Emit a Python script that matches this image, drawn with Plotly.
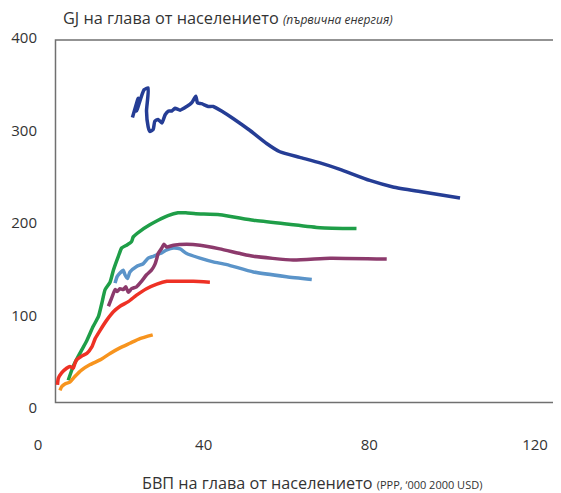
import plotly.graph_objects as go

# GDP per capita (PPP, '000 2000 USD) vs primary energy per capita (GJ)
navy_x = [22.8, 24.2, 23.8, 25.6, 26.6, 26.2, 26.6, 27.0, 27.8, 28.2, 29.0, 29.9, 30.7, 31.5, 32.3,
          33.1, 34.3, 35.9, 37.1, 38.1, 38.5, 39.5, 41.1, 42.3, 44.7, 47.1, 51.2, 55.2, 58.4, 63.2,
          68.1, 72.9, 80.1, 85.7, 92.2, 101.9]
navy_y = [314, 335, 321, 344, 346, 321, 304, 299, 301, 310, 312, 308, 317, 321, 321,
          324, 322, 326, 330, 337, 330, 329, 326, 326, 320, 313, 300, 286, 277, 271,
          265, 258, 246, 239, 234, 227]

green_x = [7.3, 8.5, 10.1, 11.8, 13.3, 14.6, 15.4, 16.2, 17.4, 18.2, 19.4, 20.2, 21.4, 22.6, 23.0,
           24.6, 27.0, 29.0, 31.4, 33.8, 35.7, 38.1, 43.9, 52.0, 60.0, 68.1, 76.9]
green_y = [30, 45, 59, 73, 88, 99, 113, 128, 136, 149, 164, 173, 176, 180, 185,
           191, 198, 203, 208, 211, 211, 210, 209, 203, 199, 195, 194]

purple_x = [17.0, 17.8, 18.6, 19.1, 19.8, 20.6, 21.2, 21.8, 22.6, 23.8, 25.0, 26.2, 27.4, 28.2, 28.7,
            29.0, 29.9, 30.4, 31.1, 32.7, 35.9, 39.1, 43.9, 48.8, 52.0, 61.6, 70.5, 84.2]
purple_y = [110, 119, 128, 126, 129, 128, 131, 125, 129, 131, 137, 144, 149, 155, 162,
            167, 173, 177, 174, 176, 177, 176, 172, 167, 164, 160, 162, 161]

lblue_x = [18.6, 19.1, 19.8, 20.6, 21.0, 21.6, 22.2, 23.8, 25.4, 26.6, 27.8, 29.5, 31.1, 32.7, 34.3,
           35.9, 39.1, 42.3, 45.6, 52.0, 60.0, 66.1]
lblue_y = [135, 142, 146, 149, 144, 140, 147, 153, 156, 162, 164, 167, 171, 173, 172,
           167, 162, 158, 155, 147, 142, 139]

red_x = [4.7, 4.9, 5.7, 6.9, 7.7, 8.5, 8.9, 9.3, 10.5, 11.8, 13.0, 13.8, 15.0, 16.6, 18.2,
         19.8, 21.8, 23.8, 26.2, 28.7, 31.1, 34.3, 37.5, 41.5]
red_y = [25, 32, 38, 43, 45, 43, 48, 52, 56, 59, 66, 75, 84, 95, 104,
         110, 115, 122, 129, 134, 137, 137, 137, 136]

orange_x = [5.3, 5.7, 6.5, 7.7, 8.9, 10.5, 12.6, 15.0, 17.4, 19.8, 22.2, 24.6, 27.7]
orange_y = [19, 23, 26, 28, 34, 41, 47, 52, 59, 65, 70, 75, 79]

x_ticks = [0, 40, 80, 120]
y_ticks = [0, 100, 200, 300, 400]

series = [
    (green_x, green_y, "#1f9e48"),
    (lblue_x, lblue_y, "#5b94c9"),
    (purple_x, purple_y, "#8c3a6c"),
    (red_x, red_y, "#ee3124"),
    (orange_x, orange_y, "#f7941e"),
    (navy_x, navy_y, "#253d95"),
]

fig = go.Figure()
for xs, ys, c in series:
    fig.add_trace(go.Scatter(x=xs, y=ys, mode="lines",
                             line=dict(color=c, width=3.5, shape="spline", smoothing=0.5),
                             showlegend=False, hoverinfo="skip"))

font = "Open Sans"
fig.update_layout(
    width=553, height=485,
    margin=dict(l=30, r=26, t=30, b=85),
    paper_bgcolor="white", plot_bgcolor="white",
    font=dict(family=font, color="#333333", size=15),
    xaxis=dict(range=[0, 120], tickvals=x_ticks, showgrid=False, zeroline=False,
               showline=False, ticks="", ticklabelstandoff=26, automargin=False,
               tickfont=dict(size=15, color="#333333")),
    yaxis=dict(range=[0, 400], tickvals=y_ticks, showgrid=False, zeroline=False,
               showline=False, ticks="", ticklabelstandoff=0, automargin=False,
               tickfont=dict(size=15, color="#333333")),
    shapes=[dict(type="rect", xref="paper", yref="paper",
                 x0=0.0352, x1=1.0423, y0=0.0149, y1=0.9946,
                 line=dict(color="#707070", width=1.5), layer="below")],
    annotations=[
        dict(xref="paper", yref="paper", x=0.0463, y=1.054, xanchor="left", yanchor="middle",
             showarrow=False,
             text="GJ на глава от населението <i><span style='font-size:12px'>(първична енергия)</span></i>",
             font=dict(size=16.3, color="#333333", family=font)),
        dict(xref="paper", yref="paper", x=0.2052, y=-0.2027, xanchor="left", yanchor="middle",
             showarrow=False,
             text="БВП на глава от населението <span style='font-size:11px'>(PPP, ‘000 2000 USD)</span>",
             font=dict(size=16.2, color="#333333", family=font)),
    ],
)

fig.write_html("out.html")
